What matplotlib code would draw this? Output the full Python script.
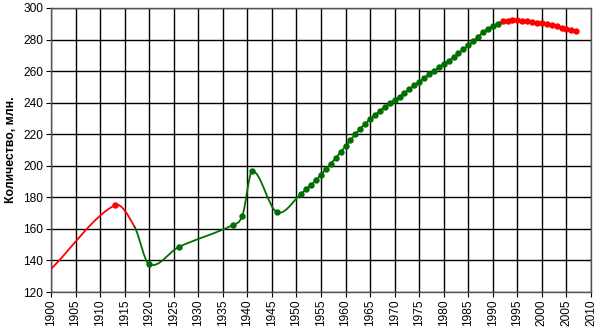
import numpy as np
import matplotlib
matplotlib.use("Agg")
import matplotlib.pyplot as plt
from matplotlib.path import Path
from matplotlib.patches import PathPatch

plt.rcParams['font.family'] = ['Liberation Sans', 'DejaVu Sans']

# Early period (knots of the smoothed curve); marker flags
early_years = [1900, 1913, 1917, 1920, 1926, 1937, 1939, 1941, 1946]
early_vals = [134.6, 175.0, 161.5, 137.5, 148.5, 162.4, 168.5, 196.7, 170.6]
early_marker = [False, True, False, True, True, True, True, True, True]

# Yearly data 1951-1991 (green)
yearly_years = list(range(1951, 1992))
yearly_vals = [182.3, 185.4, 188.0, 191.0, 194.4, 197.9, 201.4, 204.9, 208.8, 212.4,
               216.3, 220.0, 223.5, 226.7, 229.6, 232.2, 234.8, 237.2, 239.5, 241.7,
               243.9, 246.3, 248.6, 250.9, 253.3, 255.5, 257.9, 260.1, 262.4, 264.5,
               266.6, 268.8, 271.2, 273.8, 276.3, 278.8, 281.7, 284.5, 286.7, 288.6,
               290.1]

# Yearly data 1992-2007 (red)
late_years = list(range(1992, 2008))
late_vals = [291.5, 291.9, 292.1, 292.1, 291.9, 291.7, 291.2, 290.8, 290.2, 289.6,
             289.0, 288.3, 287.6, 286.9, 286.2, 285.5]

x_ticks = list(range(1900, 2011, 5))
y_ticks = list(range(120, 301, 20))
ylabel = "Количество, млн."

RED = "#FF0000"
GREEN = "#006E00"

years = np.array(early_years + yearly_years + late_years, dtype=float)
vals = np.array(early_vals + yearly_vals + late_vals, dtype=float)
n = len(years)

# slopes for a smooth (Hermite) curve through the knots
slopes = np.empty(n)
for i in range(n):
    a = max(i - 1, 0)
    b = min(i + 1, n - 1)
    slopes[i] = (vals[b] - vals[a]) / (years[b] - years[a])

def seg_color(i):
    if years[i + 1] <= 1917:
        return RED
    if years[i] >= 1991:
        return RED
    return GREEN

fig = plt.figure(figsize=(6.0, 3.33), dpi=100)
ax = fig.add_axes([0.085, 0.123, 0.900, 0.853])

for i in range(n - 1):
    x1, y1 = years[i], vals[i]
    x2, y2 = years[i + 1], vals[i + 1]
    d = (x2 - x1) / 3.0
    verts = [(x1, y1), (x1 + d, y1 + slopes[i] * d),
             (x2 - d, y2 - slopes[i + 1] * d), (x2, y2)]
    path = Path(verts, [Path.MOVETO, Path.CURVE4, Path.CURVE4, Path.CURVE4])
    ax.add_patch(PathPatch(path, facecolor='none', edgecolor=seg_color(i),
                           lw=1.3, zorder=3, capstyle='round'))

# markers
ey = [y for y, m in zip(early_years, early_marker) if m]
ev = [v for v, m in zip(early_vals, early_marker) if m]
ecol = [RED if y <= 1917 else GREEN for y in ey]
for y, v, c in zip(ey, ev, ecol):
    ax.plot([y], [v], 'o', color=c, ms=3.6, zorder=4)
ax.plot(yearly_years, yearly_vals, 'o', color=GREEN, ms=3.6, zorder=4, lw=0)
ax.plot(late_years, late_vals, 'o', color=RED, ms=3.6, zorder=4, lw=0)

ax.set_xlim(1900, 2010)
ax.set_ylim(120, 300)
ax.set_xticks(x_ticks)
ax.set_yticks(y_ticks)
ax.set_xticklabels([str(t) for t in x_ticks], rotation=90, fontsize=8.6)
ax.set_yticklabels([str(t) for t in y_ticks], fontsize=8.6)
ax.grid(True, color='black', lw=1.0, zorder=1)
for s in ax.spines.values():
    s.set_color('#555555')
    s.set_linewidth(1.0)
ax.tick_params(axis='both', direction='out', length=3.5, width=0.8, color='black', pad=2)
ax.set_ylabel(ylabel, fontsize=8.8, fontweight='bold', labelpad=5)

fig.savefig("out.png", dpi=100)
